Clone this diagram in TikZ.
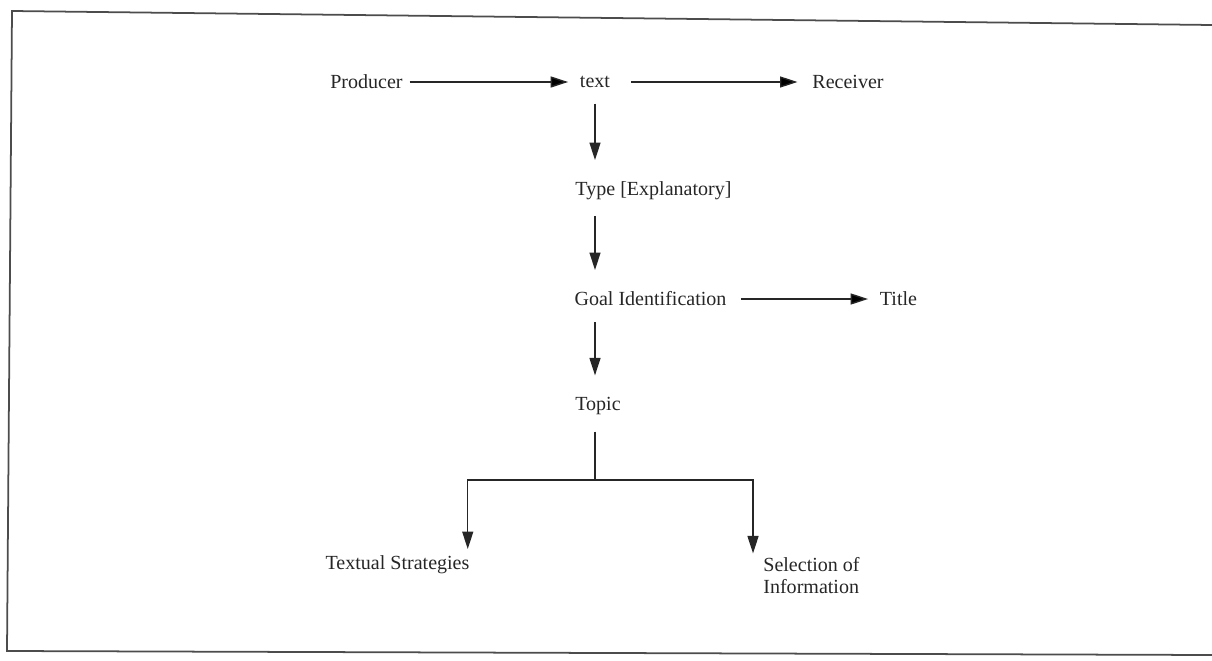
\documentclass[tikz,border=0pt]{standalone}
\usepackage{fontspec}
\setmainfont{Liberation Serif}
\usetikzlibrary{arrows.meta,positioning,calc}
\tikzset{
  lbl/.style  = { inner sep=1.3mm, font=\fontsize{11.4pt}{12pt}\selectfont, text=black!85 },
  arr/.style  = { -{Triangle[length=3.5mm,width=2.2mm]}, line width=0.8pt, draw=black!85, shorten >=1mm },
  varr/.style = { arr, shorten <=1.8mm, shorten >=3mm },
  frame/.style = { line width=1pt, draw=black!70 }
}
\begin{document}
\begin{tikzpicture}[on grid]
      \useasboundingbox (0,0) rectangle (24.24,-13.22);
      % page frame, open on the right
      \draw[frame] (24.24,-0.50) -- (0.24,-0.22) -- (0.14,-13.02) -- (24.24,-13.10);
      \node[lbl] (prod) at (7.33,-1.64) {Producer};
      \node[lbl, right=4.57cm of prod] (txt) {text};
      \node[lbl, right=5.06cm of txt] (recv) {Receiver};
      \node[lbl, below=2.18cm of txt, xshift=1.17cm] (type) {Type [Explanatory]};
      \node[lbl, below=2.16cm of type, xshift=-0.06cm] (goal) {Goal Identification};
      \node[lbl, right=4.96cm of goal] (title) {Title};
      \node[lbl, below=2.14cm of goal, xshift=-1.05cm] (topic) {Topic};
      \node[lbl, below=3.18cm of topic, xshift=-4.01cm] (strat) {Textual Strategies};
      \node[lbl, align=left, below=3.39cm of topic, xshift=4.27cm] (info) {Selection of\\Information};
      \coordinate[below=1.48cm of topic] (fork);
      \coordinate (fl) at ($(fork -| strat.east)+(-0.17,0)$);
      \coordinate (fr) at ($(fork -| info.west)+(-0.07,0)$);
      \path[arr] (prod) edge (txt);
      \path[arr, shorten <=2.9mm, shorten >=1.6mm] (txt) edge (recv);
      \path[arr, shorten <=1.5mm] (goal) edge (title);
      \draw[varr] (txt.south) -- (txt.south |- type.north);
      \draw[varr] (txt.south |- type.south) -- (txt.south |- goal.north);
      \draw[varr] (txt.south |- goal.south) -- (txt.south |- topic.north);
      \draw[arr, -, shorten >=0pt] ($(txt.south |- topic.south)+(0,-0.2)$) -- (txt.south |- fork);
      \draw[arr, shorten >=0pt] (txt.south |- fork) -- (fl) -- (fl |- strat.north);
      \draw[arr, shorten >=0pt] (txt.south |- fork) -- (fr) -- ($(fr |- info.north)+(0,-0.05)$);
    \end{tikzpicture}
\end{document}
